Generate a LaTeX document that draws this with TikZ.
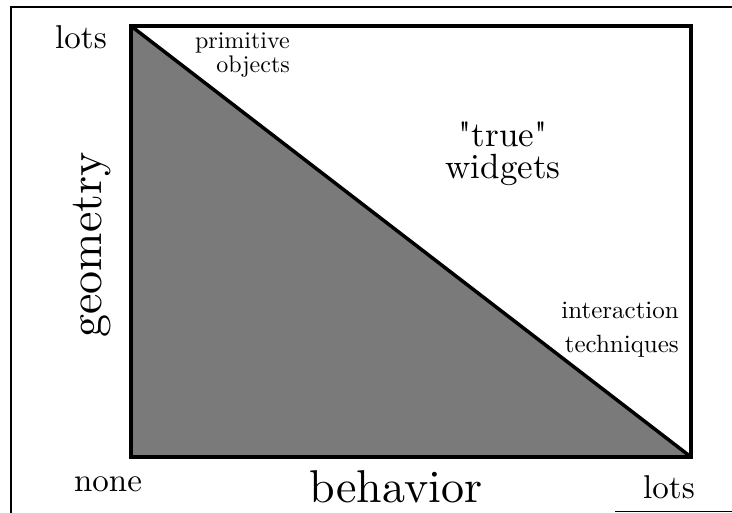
\documentclass[tikz,border=0pt]{standalone}
\usepackage{fontspec}
\setmainfont{lmroman10-regular.otf}
\newfontfamily\plainfont{lmroman10-regular.otf}
\usepackage{tikz}
\usetikzlibrary{positioning,calc}

\begin{document}
\begin{tikzpicture}[x=1pt, y=1pt,
  frame/.style={draw=black, line width=3.5pt, line join=miter},
  hatch/.style={fill=black!52},
  big/.style={inner sep=0pt, font=\fontsize{46}{50}\selectfont},
  mid/.style={inner sep=0pt, font=\fontsize{33}{36}\selectfont},
  small/.style={inner sep=0pt, align=right, font=\fontsize{24}{24}\selectfont}]

\useasboundingbox (0,0) rectangle (732,513);

% outer frame of the scan
\draw[line width=2pt] (11,0) -- (11,506) -- (732,506);
\draw[line width=1pt] (615,1) -- (732,1);

% plot area
\coordinate (tl) at (131,487);
\coordinate (bl) at (131,56);
\coordinate (br) at (691,56);
\coordinate (tr) at (691,487);

\fill[hatch] (tl) -- (bl) -- (br) -- cycle;
\draw[frame] (bl) rectangle (tr);
\draw[frame] (tl) -- (br);

% axis ends
\node[mid, anchor=base] (ymax) at (81,464) {lots};
\node[mid, anchor=base] (none) at (108,21) {none};
\node[mid, anchor=base] (xmax) at (669,14) {lots};

% axis names
\node[big, anchor=base] (xname) at (396,10) {behavior};
\node[big, anchor=base, rotate=90] (yname) at (101,268) {geometry};

% regions
\node[small, anchor=east] (prim) at (290,458) {primitive\\objects};
\node[mid, align=center, font=\plainfont\fontsize{35}{32}\selectfont] (widg) at (503,359) {"true"\\widgets};
\node[small, anchor=east, font=\fontsize{25}{34}\selectfont] (inter) at (679,183) {interaction\\techniques};
\end{tikzpicture}
\end{document}
